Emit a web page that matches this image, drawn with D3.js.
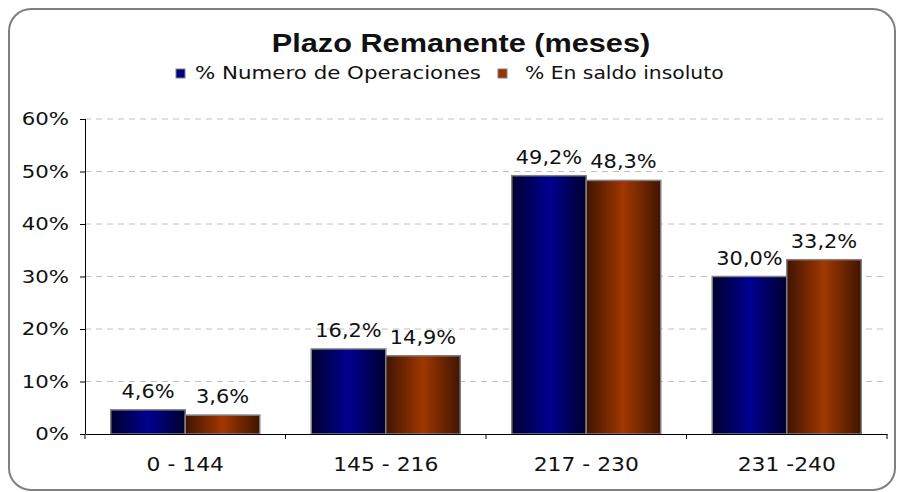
<!DOCTYPE html>
<html>
<head>
<meta charset="utf-8">
<script src="https://cdn.jsdelivr.net/npm/d3@7"></script>
<style>
    body { margin: 0; background: #fff; }
    svg { display: block; }
    text { font-family: "DejaVu Sans", Verdana, sans-serif; fill: #111; }
</style>
</head>
<body>
<div id="chart"></div>
<script>
// chart data
const categories = ["0 - 144", "145 - 216", "217 - 230", "231 -240"];
const seriesNames = ["% Numero de Operaciones", "% En saldo insoluto"];
const operaciones = [4.6, 16.2, 49.2, 30.0];
const saldo = [3.6, 14.9, 48.3, 33.2];
const yTicks = [0, 10, 20, 30, 40, 50, 60];

const width = 899, height = 492;
const margin = {top: 119, right: 12, bottom: 58, left: 85};

const svg = d3.select("#chart").append("svg")
    .attr("width", width)
    .attr("height", height);

// the original text looks horizontally stretched, so put text through this
function stretchedText(parent, x, y, s, str) {
    return parent.append("text")
        .attr("transform", `translate(${x},${y}) scale(${s},1)`)
        .text(str);
}

// gradients for the 3d-ish bars
const defs = svg.append("defs");
const gradients = [
    {id: "gBlue", edge: "#00002e", mid: "#000090"},
    {id: "gBrown", edge: "#401400", mid: "#a03800"}
];
gradients.forEach(g => {
    const lg = defs.append("linearGradient").attr("id", g.id)
        .attr("x1", "0%").attr("x2", "100%").attr("y1", "0%").attr("y2", "0%");
    lg.append("stop").attr("offset", "0%").attr("stop-color", g.edge);
    lg.append("stop").attr("offset", "50%").attr("stop-color", g.mid);
    lg.append("stop").attr("offset", "100%").attr("stop-color", g.edge);
});

// outer frame
svg.append("rect")
    .attr("x", 9).attr("y", 9)
    .attr("width", 886).attr("height", 481)
    .attr("rx", 22).attr("ry", 22)
    .attr("fill", "none")
    .attr("stroke", "#7f7f7f")
    .attr("stroke-width", 2);

const innerW = width - margin.left - margin.right;
const innerH = 434 - margin.top;

const x = d3.scaleBand(categories, [0, innerW]);
const xSub = d3.scaleBand([0, 1], [0, 149]);
const y = d3.scaleLinear([0, 60], [innerH, 0]);

const chart = svg.append("g")
    .attr("transform", `translate(${margin.left},${margin.top})`);

// gridlines
chart.selectAll("line.grid")
    .data(yTicks.filter(d => d > 0))
    .join("line")
    .classed("grid", true)
    .attr("x1", 0).attr("x2", innerW)
    .attr("y1", d => y(d)).attr("y2", d => y(d))
    .attr("stroke", "#c0c0c0")
    .attr("stroke-dasharray", "6,5");

// bars
const series = [operaciones, saldo];
const fills = ["url(#gBlue)", "url(#gBrown)"];
const groups = chart.selectAll("g.cat")
    .data(categories)
    .join("g")
    .classed("cat", true)
    .attr("transform", d => `translate(${x(d) + (x.bandwidth() - 149) / 2},0)`);

groups.each(function (cat, i) {
    const g = d3.select(this);
    series.forEach((s, k) => {
        g.append("rect")
            .attr("x", xSub(k))
            .attr("y", y(s[i]))
            .attr("width", xSub.bandwidth())
            .attr("height", y(0) - y(s[i]))
            .attr("fill", fills[k])
            .attr("stroke", "#808080")
            .attr("stroke-width", 1.5);
        stretchedText(g, xSub(k) + xSub.bandwidth() / 2, y(s[i]) - 12, 1.1,
                s[i].toFixed(1).replace(".", ",") + "%")
            .attr("text-anchor", "middle")
            .style("font-size", "19px");
    });
});

// axes
const axisY = d3.axisLeft(y).tickValues(yTicks)
    .tickSize(5).tickPadding(7)
    .tickFormat(d => d + "%");
const axisX = d3.axisBottom(x).tickSize(0).tickPadding(22);

const gy = chart.append("g").call(axisY);
const gx = chart.append("g").attr("transform", `translate(0,${innerH})`).call(axisX);

[gy, gx].forEach(g => {
    g.select(".domain").attr("stroke", "#000");
    g.selectAll("line").attr("stroke", "#000");
    g.selectAll("text").attr("fill", "#111")
        .style("font-family", "'DejaVu Sans', Verdana, sans-serif");
});
gy.select(".domain").attr("d", `M0.5,0V${innerH}`);
gy.selectAll("text")
    .style("font-size", "18.5px")
    .attr("x", -16 / 1.15)
    .attr("transform", "scale(1.15,1)");
gx.selectAll("text")
    .style("font-size", "19px")
    .attr("y", 24)
    .attr("transform", "scale(1.15,1)");

// category boundary ticks under the x axis
gx.selectAll("line.sep")
    .data(d3.range(categories.length + 1))
    .join("line")
    .classed("sep", true)
    .attr("x1", d => d * x.bandwidth()).attr("x2", d => d * x.bandwidth())
    .attr("y1", 0).attr("y2", 5)
    .attr("stroke", "#000");

// title
stretchedText(svg, 461, 52, 1.18, "Plazo Remanente (meses)")
    .attr("text-anchor", "middle")
    .style("font-family", "'Liberation Sans', Arial, sans-serif")
    .style("font-weight", "bold")
    .style("font-size", "26px");

// legend
const legendX = [176, 498];
const legendTextX = [195, 525];
const legendScale = [1.22, 1.16];
const legendColors = ["#000080", "#993300"];
seriesNames.forEach((name, k) => {
    svg.append("rect")
        .attr("x", legendX[k]).attr("y", 69)
        .attr("width", 9).attr("height", 9)
        .attr("fill", legendColors[k])
        .attr("stroke", "#808080");
    stretchedText(svg, legendTextX[k], 79, legendScale[k], name)
        .style("font-size", "17.5px");
});
</script>
</body>
</html>
